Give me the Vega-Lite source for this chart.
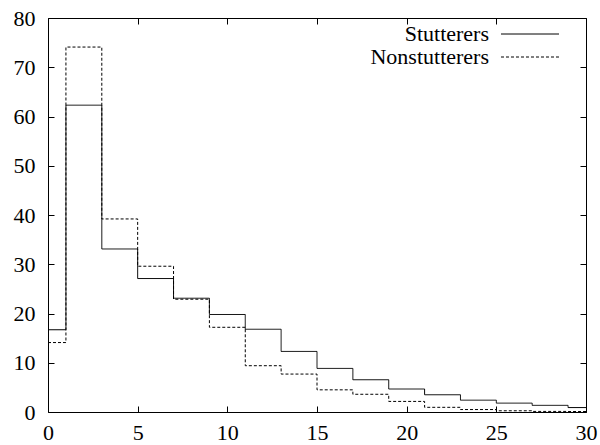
{
  "$schema": "https://vega.github.io/schema/vega-lite/v6.json",
  "width": 538,
  "height": 394,
  "autosize": {"type": "none"},
  "padding": {"left": 48, "top": 18, "right": 14, "bottom": 33},
  "background": "white",
  "config": {
    "view": {"stroke": "black", "strokeWidth": 1},
    "font": "Liberation Serif",
    "axis": {
      "grid": false,
      "domain": false,
      "tickColor": "black",
      "tickSize": -6,
      "labelFont": "Liberation Serif",
      "labelFontSize": 22,
      "labelColor": "black"
    }
  },
  "data": {
    "values": [
      {"series": "Stutterers", "x": 0, "y": 16.7},
      {"series": "Stutterers", "x": 1, "y": 62.3},
      {"series": "Stutterers", "x": 3, "y": 33.1},
      {"series": "Stutterers", "x": 5, "y": 27.1},
      {"series": "Stutterers", "x": 7, "y": 23.1},
      {"series": "Stutterers", "x": 9, "y": 19.8},
      {"series": "Stutterers", "x": 11, "y": 16.8},
      {"series": "Stutterers", "x": 13, "y": 12.3},
      {"series": "Stutterers", "x": 15, "y": 8.85},
      {"series": "Stutterers", "x": 17, "y": 6.55},
      {"series": "Stutterers", "x": 19, "y": 4.67},
      {"series": "Stutterers", "x": 21, "y": 3.5},
      {"series": "Stutterers", "x": 23, "y": 2.4},
      {"series": "Stutterers", "x": 25, "y": 1.8},
      {"series": "Stutterers", "x": 27, "y": 1.35},
      {"series": "Stutterers", "x": 29, "y": 0.9},
      {"series": "Stutterers", "x": 30, "y": 0.9},
      {"series": "Nonstutterers", "x": 0, "y": 14.1},
      {"series": "Nonstutterers", "x": 1, "y": 74.1},
      {"series": "Nonstutterers", "x": 3, "y": 39.2},
      {"series": "Nonstutterers", "x": 5, "y": 29.6},
      {"series": "Nonstutterers", "x": 7, "y": 22.9},
      {"series": "Nonstutterers", "x": 9, "y": 17.2},
      {"series": "Nonstutterers", "x": 11, "y": 9.4},
      {"series": "Nonstutterers", "x": 13, "y": 7.7},
      {"series": "Nonstutterers", "x": 15, "y": 4.5},
      {"series": "Nonstutterers", "x": 17, "y": 3.6},
      {"series": "Nonstutterers", "x": 19, "y": 2.15},
      {"series": "Nonstutterers", "x": 21, "y": 0.95},
      {"series": "Nonstutterers", "x": 23, "y": 0.5},
      {"series": "Nonstutterers", "x": 25, "y": 0.25},
      {"series": "Nonstutterers", "x": 27, "y": 0.12},
      {"series": "Nonstutterers", "x": 29, "y": 0.1},
      {"series": "Nonstutterers", "x": 30, "y": 0.1}
    ]
  },
  "layer": [
    {
      "mark": {"type": "line", "interpolate": "step-after", "color": "black", "strokeWidth": 1},
      "encoding": {
        "x": {"field": "x", "type": "quantitative", "scale": {"domain": [0, 30], "nice": false},
              "axis": {"orient": "bottom", "values": [0, 5, 10, 15, 20, 25, 30], "title": null, "labelPadding": 16, "labelFlush": false}},
        "y": {"field": "y", "type": "quantitative", "scale": {"domain": [0, 80], "nice": false},
              "axis": {"orient": "left", "values": [0, 10, 20, 30, 40, 50, 60, 70, 80], "title": null, "labelPadding": 19, "labelFlush": false}},
        "strokeDash": {"field": "series", "type": "nominal",
          "scale": {"domain": ["Stutterers", "Nonstutterers"], "range": [[1, 0], [3, 2]]},
          "legend": {
            "title": null,
            "orient": "none",
            "legendX": 471,
            "legendY": 5,
            "padding": 0,
            "symbolType": "M-3,0H3",
            "symbolSize": 374,
            "symbolStrokeWidth": 1,
            "symbolStrokeColor": "black",
            "labelAlign": "right",
            "labelOffset": -52,
            "labelFont": "Liberation Serif",
            "labelFontSize": 22,
            "labelColor": "black",
            "rowPadding": 1,
            "labelLimit": 300
          }
        }
      }
    },
    {
      "mark": {"type": "line", "interpolate": "step-after", "opacity": 0},
      "encoding": {
        "x": {"field": "x", "type": "quantitative",
              "axis": {"orient": "top", "values": [0, 5, 10, 15, 20, 25, 30], "title": null, "labels": false}},
        "y": {"field": "y", "type": "quantitative",
              "axis": {"orient": "right", "values": [0, 10, 20, 30, 40, 50, 60, 70, 80], "title": null, "labels": false}},
        "detail": {"field": "series"}
      }
    }
  ],
  "resolve": {"axis": {"x": "independent", "y": "independent"}}
}
